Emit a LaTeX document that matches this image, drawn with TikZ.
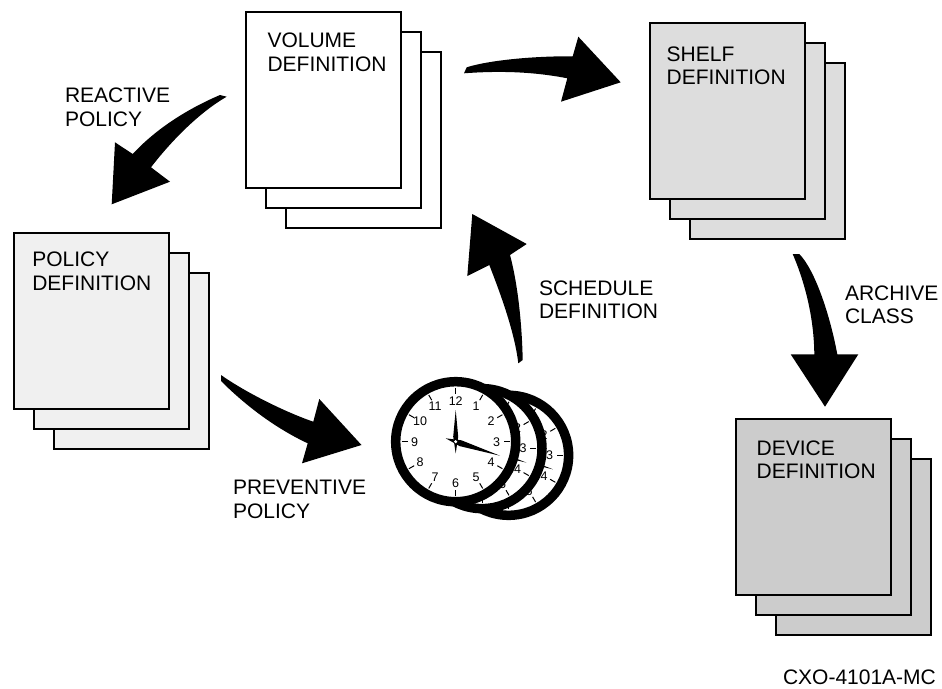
\documentclass[tikz,border=0pt]{standalone}
\usepackage{fontspec}
\setmainfont{Liberation Sans}
\definecolor{shelfgray}{HTML}{DDDDDD}
\definecolor{policygray}{HTML}{F0F0F0}
\definecolor{devicegray}{HTML}{CCCCCC}
\tikzset{
  x=1pt,y=-1pt,
  sheet/.style={draw=black,line width=2.4pt,rectangle,anchor=north west,inner sep=0pt,outer sep=0pt,minimum width=155pt,minimum height=176pt},
  lab/.style={anchor=north west,inner sep=0pt,outer sep=0pt,align=left,font=\fontsize{21}{23.8}\selectfont},
  ring/.style={circle,draw=black,fill=white,line width=9.5pt,inner sep=0pt,outer sep=0pt,minimum size=120pt},
  fat/.style={fill=black,draw=none}
}
\newcommand{\clockface}[3]{%
  \begin{scope}[shift={(#1,#2)}]
    \node[ring] (#3) at (0,0) {};
    \foreach \h in {1,...,12}{
      \pgfmathsetmacro{\ang}{30*\h-90}
      \draw[line width=1pt] (\ang:54) -- (\ang:48);
      \node[inner sep=0pt,font=\fontsize{12.5}{13}\selectfont] at (\ang:41) {\h};
    }
    \fill[black] (44.3,14) -- (3.9,4.4) -- (-10,-3.4) -- (5.7,-1.4) -- cycle;
    \fill[black] (0,-31.7) -- (2.5,-5) -- (0,11.7) -- (-2.5,-5) -- cycle;
    \fill[white] (0,0) circle (1.7);
  \end{scope}}
\begin{document}
\begin{tikzpicture}
\useasboundingbox (0,0) rectangle (942,688);
\fill[white] (0,0) rectangle (942,688);

% volume stack
\node[sheet,fill=white] (vol3) at (286,52) {};
\node[sheet,fill=white] (vol2) at (266,32) {};
\node[sheet,fill=white] (vol1) at (246,12) {};
\node[lab] (voltext) at (267.5,33) {VOLUME\\DEFINITION};
% shelf stack
\node[sheet,fill=shelfgray] (shelf3) at (690,63) {};
\node[sheet,fill=shelfgray] (shelf2) at (670,43) {};
\node[sheet,fill=shelfgray] (shelf1) at (650,23) {};
\node[lab] (shelftext) at (666.7,46.5) {SHELF\\DEFINITION};
% policy stack
\node[sheet,fill=policygray] (pol3) at (54,273) {};
\node[sheet,fill=policygray] (pol2) at (34,253) {};
\node[sheet,fill=policygray] (pol1) at (14,233) {};
\node[lab] (poltext) at (32.3,252) {POLICY\\DEFINITION};
% device stack
\node[sheet,fill=devicegray] (dev3) at (776,459) {};
\node[sheet,fill=devicegray] (dev2) at (756,439) {};
\node[sheet,fill=devicegray] (dev1) at (736,419) {};
\node[lab] (devtext) at (756.7,440.5) {DEVICE\\DEFINITION};

% clocks
\clockface{508.6}{455.3}{clockC}
\clockface{482}{448.6}{clockB}
\clockface{455.7}{441.7}{clockA}

% labels
\node[lab] (reactive) at (65,88) {REACTIVE\\POLICY};
\node[lab] (preventive) at (233,480.5) {PREVENTIVE\\POLICY};
\node[lab] (schedule) at (539,280.5) {SCHEDULE\\DEFINITION};
\node[lab] (archive) at (845,285.5) {ARCHIVE\\CLASS};
\node[lab] (code) at (783,669.5) {CXO-4101A-MC};

% arrow: volume -> policy
\coordinate (ra) at (220,95);
\coordinate (rb) at (226.7,96.7);
\coordinate (rc) at (132.7,154);
\coordinate (rd) at (151,167.3);
\coordinate (re) at (115,142.3);
\coordinate (rf) at (170,181.7);
\coordinate (rg) at (111.7,204.3);
\fill[fat] (ra) .. controls (185,110) and (155,130) .. (rc) -- (re) -- (rg) -- (rf) -- (rd) .. controls (172,140) and (200,112) .. (rb) -- cycle;

% arrow: volume -> shelf
\coordinate (va) at (466.7,67.3);
\coordinate (vb) at (464,73.3);
\coordinate (vc) at (572.7,56.3);
\coordinate (vd) at (567.3,78.3);
\coordinate (ve) at (578.3,36.7);
\coordinate (vf) at (620.7,82.3);
\coordinate (vg) at (561,101.7);
\fill[fat] (va) .. controls (490,60) and (535,56) .. (vc) -- (ve) -- (vf) -- (vg) -- (vd) .. controls (530,71) and (495,71) .. (vb) -- cycle;

% arrow: policy -> clock
\coordinate (pa) at (221,375);
\coordinate (pb) at (221,381);
\coordinate (pc) at (313.3,421.7);
\coordinate (pd) at (307.7,443.3);
\coordinate (pe) at (319.3,399);
\coordinate (pf) at (361.5,445);
\coordinate (pg) at (302,463.3);
\fill[fat] (pa) .. controls (245,392) and (285,412) .. (pc) -- (pe) -- (pf) -- (pg) -- (pd) .. controls (275,428) and (245,405) .. (pb) -- cycle;

% arrow: clock -> volume
\coordinate (sa) at (518.3,363.3);
\coordinate (sb) at (522.7,360);
\coordinate (sc) at (489.3,265);
\coordinate (sd) at (510,255);
\coordinate (se) at (467.3,276);
\coordinate (sf) at (526.7,244);
\coordinate (sg) at (472.3,214);
\fill[fat] (sa) .. controls (515,335) and (503,300) .. (sc) -- (se) -- (sg) -- (sf) -- (sd) .. controls (518,285) and (522,325) .. (sb) -- cycle;

% arrow: shelf -> device
\coordinate (aa) at (792.7,254);
\coordinate (ab) at (799.3,254);
\coordinate (ac) at (814.3,354.3);
\coordinate (ad) at (837.3,354.3);
\coordinate (ae) at (790.7,354.3);
\coordinate (af) at (858.3,354.3);
\coordinate (ag) at (825,406.7);
\fill[fat] (aa) .. controls (806,285) and (814,320) .. (ac) -- (ae) -- (ag) -- (af) -- (ad) .. controls (830,315) and (815,270) .. (ab) -- cycle;
\end{tikzpicture}
\end{document}
